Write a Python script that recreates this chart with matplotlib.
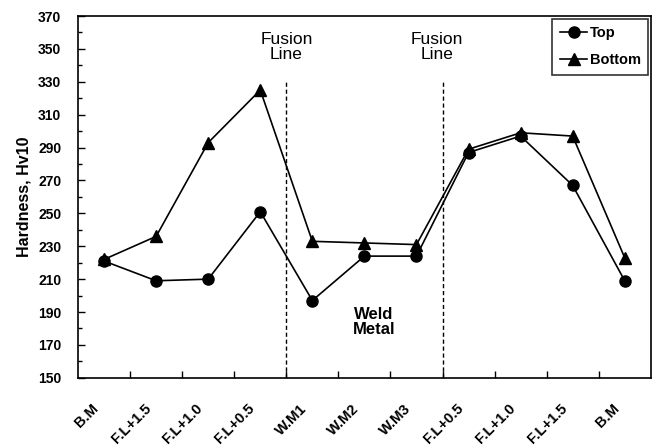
import numpy as np
import matplotlib
matplotlib.use("Agg")
import matplotlib.pyplot as plt
from matplotlib.transforms import ScaledTranslation

plt.rcParams['font.family'] = ['Liberation Sans', 'DejaVu Sans']
plt.rcParams['font.weight'] = 'bold'

# hardness traverse across the weld
positions = ["B.M", "F.L+1.5", "F.L+1.0", "F.L+0.5", "W.M1", "W.M2", "W.M3",
             "F.L+0.5", "F.L+1.0", "F.L+1.5", "B.M"]
top = [221, 209, 210, 251, 197, 224, 224, 287, 297, 267, 209]
bottom = [222, 236, 293, 325, 233, 232, 231, 289, 299, 297, 223]
fusion_lines = [4, 7]      # boundaries between zones (category index)

fig = plt.figure(figsize=(6.56, 4.45), dpi=100)
ax = fig.add_axes([0.119, 0.151, 0.873, 0.813])

x = np.arange(len(positions)) + 0.5
ax.plot(x, top, "-o", color="black", lw=1.2, ms=8, label="Top")
ax.plot(x, bottom, "-^", color="black", lw=1.2, ms=8, label="Bottom")

for b in fusion_lines:
    ax.plot([b, b], [150, 330], ls=(0, (3, 2)), color="black", lw=1.0)

for b, dx in zip(fusion_lines, [0.0, -0.1]):
    ax.text(b + dx, 360, "Fusion\nLine", ha="center", va="top",
            fontsize=12.5, fontweight="medium", linespacing=1.0)
ax.text(5.68, 193, "Weld\nMetal", ha="center", va="top", fontsize=12,
        fontweight="bold", linespacing=1.0)

ax.set_xlim(0, len(positions))
ax.set_ylim(150, 370)
ax.set_yticks(np.arange(150, 371, 20))
ax.set_yticks(np.arange(150, 371, 10), minor=True)
ax.set_xticks(np.arange(1, len(positions)))
ax.set_xticklabels([])
ax.set_xticks(x, minor=True)
ax.set_xticklabels(positions, minor=True, rotation=45, ha="right",
                   va="top", rotation_mode="anchor", fontsize=10.5,
                   fontweight="bold")
ax.tick_params(axis="x", which="minor", length=0, pad=17)
ax.tick_params(axis="x", which="major", direction="in", length=5, width=1)
ax.tick_params(axis="y", which="major", direction="in", length=5, width=1,
               labelsize=10, pad=12)
ax.tick_params(axis="y", which="minor", direction="in", length=3, width=1)
for lab in ax.get_yticklabels():
    lab.set_fontweight("bold")
for lab in ax.get_xticklabels(minor=True):
    lab.set_transform(lab.get_transform() +
                      ScaledTranslation(-9 / 72, 0, fig.dpi_scale_trans))

ax.set_ylabel("Hardness, Hv10", fontsize=11.5, fontweight="bold", labelpad=5)
for s in ax.spines.values():
    s.set_linewidth(1.2)

leg = ax.legend(loc="upper right", frameon=True, fancybox=False,
                edgecolor="black", handlelength=1.9, handletextpad=0.15,
                borderaxespad=0.2, labelspacing=0.9, borderpad=0.5,
                prop={"weight": "bold", "size": 10.5})
leg.get_frame().set_linewidth(1.2)

fig.savefig("out.png", dpi=100)
